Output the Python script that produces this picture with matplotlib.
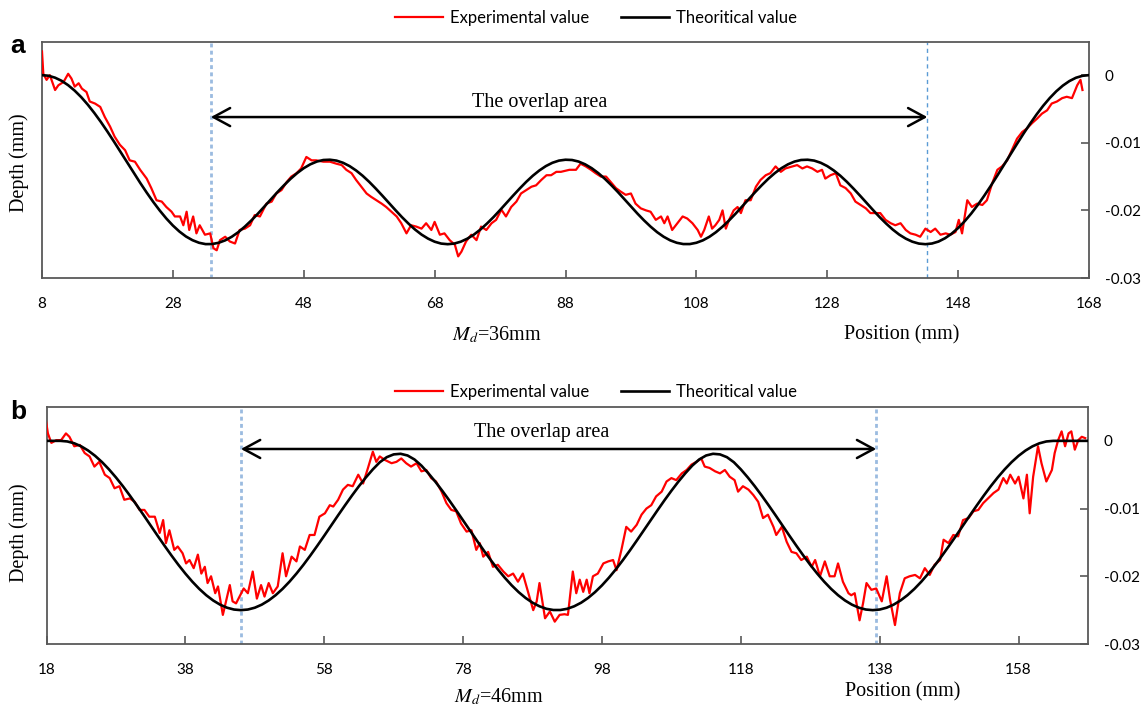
import numpy as np
import matplotlib
matplotlib.use("Agg")
import matplotlib.pyplot as plt

plt.rcParams['axes.unicode_minus'] = False
plt.rcParams['mathtext.fontset'] = 'stix'

# ---------------- data (depth values in micrometres, i.e. 0.001 mm) ----------------
# Panel a : Md = 36 mm
a_theory_x = list(range(8, 169))
a_theory_um = [
    0.00, -0.09, -0.38, -0.84, -1.49, -2.30, -3.26, -4.37, -5.60, -6.93,
    -8.35, -9.83, -11.35, -12.88, -14.42, -15.92, -17.37, -18.75, -20.03, -21.20,
    -22.24, -23.13, -23.86, -24.41, -24.79, -24.99,
    -24.98, -24.79, -24.43, -23.90, -23.22, -22.40, -21.48, -20.48, -19.42, -18.35,
    -17.28, -16.27, -15.32, -14.48, -13.76, -13.19, -12.78, -12.55, -12.51, -12.64,
    -12.96, -13.45, -14.10, -14.88, -15.78, -16.77, -17.81, -18.88, -19.95, -20.99,
    -21.95, -22.83, -23.58, -24.18, -24.63, -24.91, -25.00,
    -24.91, -24.63, -24.18, -23.58, -22.83, -21.95, -20.99, -19.95, -18.88, -17.81,
    -16.77, -15.78, -14.88, -14.10, -13.45, -12.96, -12.64, -12.51, -12.55, -12.78,
    -13.19, -13.76, -14.48, -15.32, -16.27, -17.28, -18.35, -19.42, -20.48, -21.48,
    -22.40, -23.22, -23.90, -24.43, -24.79, -24.98,
    -24.98, -24.79, -24.43, -23.90, -23.22, -22.40, -21.48, -20.48, -19.42, -18.35,
    -17.28, -16.27, -15.32, -14.48, -13.76, -13.19, -12.78, -12.55, -12.51, -12.64,
    -12.96, -13.45, -14.10, -14.88, -15.78, -16.77, -17.81, -18.88, -19.95, -20.99,
    -21.95, -22.83, -23.58, -24.18, -24.63, -24.91, -25.00,
    -24.90, -24.61, -24.12, -23.45, -22.61, -21.61, -20.47, -19.20, -17.82, -16.36,
    -14.84, -13.28, -11.72, -10.16, -8.64, -7.18, -5.80, -4.53, -3.39, -2.39,
    -1.55, -0.88, -0.39, -0.10, 0.00]

a_exp_x = [
    8.0, 8.2, 8.7, 9.2, 10.0, 10.5, 11.3, 12.0, 12.5, 13.0, 13.6, 14.1, 14.8, 15.3,
    16.1, 16.9, 17.6, 18.4, 19.1, 19.9, 20.7, 21.4, 22.2, 23.0, 24.0, 24.7, 25.5,
    26.3, 27.0, 27.8, 28.3, 29.1, 29.6, 30.1, 30.5, 31.1, 31.6, 32.1, 32.9, 33.7,
    34.2, 34.7, 35.2, 36.0, 36.7, 37.5, 38.2, 39.0, 39.8, 40.5, 41.3, 42.3, 43.1,
    43.8, 44.6, 45.4, 46.1, 46.9, 47.6, 48.4, 49.2, 49.9, 51.0, 52.0, 53.0, 53.8,
    54.5, 55.3, 56.0, 56.8, 57.6, 58.3, 59.1, 59.9, 60.6, 61.4, 62.2, 62.9, 63.7,
    64.4, 65.2, 66.0, 66.7, 67.5, 68.0, 68.8, 69.5, 70.3, 71.1, 71.6, 72.1, 72.8,
    73.6, 74.4, 75.1, 75.9, 76.7, 77.4, 78.2, 78.9, 79.7, 80.5, 81.2, 82.0, 82.8,
    83.5, 84.3, 85.1, 85.8, 86.6, 87.3, 88.6, 89.6, 90.3, 91.1, 91.9, 92.6, 93.4,
    94.2, 94.9, 95.7, 96.4, 97.2, 98.0, 98.7, 99.5, 100.3, 101.0, 101.8, 102.6,
    103.1, 103.6, 104.3, 105.1, 105.9, 106.6, 107.4, 108.2, 108.7, 109.2, 109.9,
    110.4, 110.9, 111.5, 112.0, 112.5, 113.0, 113.7, 114.3, 114.8, 115.5, 116.3,
    117.1, 117.8, 118.6, 119.3, 120.1, 120.9, 121.6, 122.7, 123.4, 124.2, 124.9,
    125.7, 126.5, 127.2, 127.7, 128.5, 129.3, 130.0, 130.8, 131.6, 132.3, 133.1,
    133.9, 134.6, 135.4, 136.1, 136.9, 137.7, 138.4, 139.2, 140.0, 140.7, 141.5,
    142.2, 143.0, 143.8, 144.5, 145.3, 146.1, 146.8, 147.6, 148.1, 148.6, 149.4,
    150.1, 150.9, 151.7, 152.4, 153.2, 154.0, 154.7, 155.5, 156.2, 157.0, 157.8,
    158.5, 159.3, 160.1, 160.8, 161.6, 162.3, 163.1, 163.9, 164.6, 165.4, 166.2,
    166.7, 167.0]
a_exp_um = [
    3.5, 0.2, -0.7, 0.0, -2.2, -1.5, -1.0, 0.2, -0.5, -1.7, -1.2, -2.0, -2.5, -3.9,
    -4.2, -4.7, -6.2, -7.6, -9.1, -10.3, -11.1, -12.6, -12.8, -14.0, -15.3, -16.7, -18.5,
    -18.7, -19.5, -20.2, -20.9, -20.9, -22.2, -20.2, -22.9, -20.9, -23.4, -22.2, -23.6, -23.4,
    -25.6, -25.9, -24.4, -23.9, -24.6, -24.9, -22.9, -22.7, -22.2, -20.7, -20.9, -19.0, -18.7,
    -17.5, -17.0, -15.8, -15.0, -14.5, -13.8, -12.1, -12.6, -12.6, -12.8, -12.8, -13.1, -13.3,
    -14.0, -14.5, -15.5, -16.5, -17.5, -18.0, -18.5, -19.0, -19.5, -20.2, -20.9, -21.9, -23.4,
    -22.2, -22.4, -22.7, -21.9, -22.9, -21.7, -23.6, -23.4, -24.4, -25.1, -26.8, -26.1, -24.6,
    -23.6, -24.4, -22.4, -22.9, -21.9, -21.4, -19.9, -20.9, -19.5, -18.7, -17.5, -17.0, -16.5,
    -16.3, -15.5, -14.8, -14.8, -14.3, -14.3, -14.0, -14.0, -13.1, -13.5, -14.0, -14.5, -15.0,
    -15.0, -15.8, -16.7, -17.2, -17.7, -17.5, -19.0, -19.7, -20.0, -20.2, -21.4, -20.9,
    -21.9, -20.9, -22.9, -21.9, -20.9, -21.2, -21.9, -22.9, -23.9, -22.9, -20.9,
    -22.7, -22.2, -21.4, -20.0, -22.7, -21.4, -20.0, -19.5, -20.4, -18.5, -18.5,
    -16.5, -15.5, -14.8, -14.5, -13.5, -14.3, -13.8, -13.5, -13.3, -13.8, -13.5,
    -13.8, -14.3, -14.0, -15.3, -14.8, -14.5, -16.3, -16.7, -17.5, -18.7, -19.2,
    -19.7, -20.4, -20.4, -20.4, -21.4, -21.9, -22.2, -21.9, -22.9, -23.4, -23.6,
    -23.9, -22.7, -23.2, -22.7, -23.6, -23.4, -23.6, -23.2, -21.4, -23.4, -18.5,
    -19.5, -19.0, -19.2, -18.5, -16.0, -14.0, -13.5, -12.6, -11.1, -9.4, -8.4,
    -7.9, -7.1, -6.4, -5.7, -5.2, -4.2, -3.9, -3.4, -3.2, -3.4, -1.5,
    -0.7, -2.2]

# Panel b : Md = 46 mm
b_theory_x = list(range(18, 169))
b_theory_um = [
    0.00, 0.00, 0.00, -0.09, -0.36, -0.81, -1.43, -2.21, -3.14, -4.21,
    -5.40, -6.69, -8.07, -9.51, -10.99, -12.50, -14.01, -15.49, -16.93, -18.31,
    -19.60, -20.79, -21.86, -22.79, -23.57, -24.19, -24.64, -24.91, -25.00,
    -24.91, -24.64, -24.19, -23.57, -22.79, -21.86, -20.79, -19.60, -18.31, -16.93,
    -15.49, -14.01, -12.50, -10.99, -9.51, -8.07, -6.69, -5.40, -4.21,
    -3.16, -2.41, -2.00, -1.91, -2.16, -2.75, -3.66,
    -4.79, -6.03, -7.37, -8.78, -10.25, -11.75, -13.25, -14.75, -16.22, -17.63,
    -18.97, -20.21, -21.34, -22.34, -23.20, -23.90, -24.43, -24.80, -24.98,
    -24.98, -24.80, -24.43, -23.90, -23.20, -22.34, -21.34, -20.21, -18.97, -17.63,
    -16.22, -14.75, -13.25, -11.75, -10.25, -8.78, -7.37, -6.03, -4.79,
    -3.66, -2.75, -2.16, -1.91, -2.00, -2.41, -3.16,
    -4.21, -5.40, -6.69, -8.07, -9.51, -10.99, -12.50, -14.01, -15.49, -16.93,
    -18.31, -19.60, -20.79, -21.86, -22.79, -23.57, -24.19, -24.64, -24.91, -25.00,
    -24.91, -24.64, -24.19, -23.57, -22.79, -21.86, -20.79, -19.60, -18.31, -16.93,
    -15.49, -14.01, -12.50, -10.99, -9.51, -8.07, -6.69, -5.40, -4.21, -3.14,
    -2.21, -1.43, -0.81, -0.36, -0.09,
    0.00, 0.00, 0.00, 0.00, 0.00, 0.00]

b_exp_x = [
    17.9, 18.2, 18.7, 19.4, 20.1, 20.8, 21.3, 22.0, 22.8, 23.5, 24.2, 24.9, 25.6,
    26.4, 27.1, 27.8, 28.5, 29.2, 30.0, 30.7, 31.4, 32.1, 32.8, 33.6, 34.3, 34.8,
    35.2, 35.7, 36.4, 36.9, 37.6, 38.1, 38.6, 39.2, 39.8, 40.3, 40.8, 41.2, 41.7,
    42.3, 42.7, 43.4, 43.9, 44.4, 44.8, 45.3, 45.8, 46.4, 47.0, 47.7, 48.3, 48.9,
    49.4, 50.0, 50.6, 51.3, 52.0, 52.5, 53.3, 54.0, 54.5, 55.2, 55.9, 56.6, 57.3,
    58.1, 58.8, 59.3, 60.0, 60.7, 61.4, 62.1, 62.9, 63.6, 64.3, 65.0, 65.5, 66.0,
    66.7, 67.7, 68.4, 69.1, 69.8, 70.5, 71.3, 72.0, 72.7, 73.4, 74.1, 74.9, 75.6,
    76.3, 77.0, 77.7, 78.5, 79.2, 79.9, 80.4, 80.9, 81.6, 82.3, 83.0, 83.8, 84.5,
    85.2, 85.9, 86.6, 87.4, 88.1, 88.6, 89.0, 89.8, 90.5, 91.2, 91.9, 92.6,
    93.1, 93.8, 94.3, 94.8, 95.3, 95.8, 96.2, 96.7, 97.4, 98.2, 98.9, 99.6, 100.1,
    100.8, 101.5, 102.2, 103.0, 103.7, 104.4, 105.1, 105.8, 106.6, 107.3, 108.0,
    108.7, 109.5, 110.2, 110.9, 111.6, 112.3, 112.8, 113.5, 114.3, 115.0, 115.7,
    116.4, 117.1, 117.6, 118.3, 119.1, 119.8, 120.5, 121.2, 121.9, 122.7, 123.1,
    123.9, 124.6, 125.3, 126.0, 126.7, 127.5, 128.2, 128.7, 129.4, 130.1, 130.8,
    131.5, 132.0, 132.7, 133.5, 133.9, 134.4, 135.1, 135.6, 136.1, 136.8, 137.5,
    138.3, 139.0, 139.5, 140.2, 140.9, 141.6, 142.3, 143.1, 143.8, 144.5, 145.2,
    145.9, 146.7, 147.2, 147.9, 148.6, 149.3, 150.0, 150.8, 151.5, 152.2, 152.9,
    153.6, 154.4, 155.1, 155.8, 156.3, 156.8, 157.5, 158.0, 158.7, 159.2, 159.6,
    160.1, 160.8, 161.3, 162.0, 162.8, 163.2, 163.7, 164.2, 164.7, 165.2, 165.6,
    166.1, 166.6, 167.1, 167.6]
b_exp_um = [
    3.1, 1.1, -0.3, 0.1, 0.1, 1.1, 0.6, -0.8, -0.6, -1.8, -2.3, -3.8, -3.1,
    -5.0, -5.5, -7.0, -6.7, -8.7, -8.5, -9.0, -10.2, -10.2, -11.2, -11.2, -13.6, -11.7,
    -15.1, -13.2, -16.1, -15.6, -16.6, -18.1, -17.6, -18.8, -16.8, -19.6, -18.6, -21.0, -20.0,
    -22.5, -21.5, -25.7, -23.5, -21.3, -23.7, -24.0, -23.0, -21.8, -22.5, -19.3, -23.3, -21.3,
    -23.0, -21.0, -22.5, -21.5, -16.6, -20.0, -17.1, -17.8, -15.6, -16.1, -13.9, -13.9, -11.2,
    -10.7, -9.5, -9.7, -8.7, -7.2, -6.5, -6.7, -5.0, -6.3, -4.0, -1.6, -3.1, -2.3,
    -2.8, -3.3, -3.1, -2.6, -3.3, -3.8, -3.3, -4.5, -4.3, -5.5, -6.0, -7.5, -9.2,
    -10.2, -10.4, -12.2, -13.4, -13.2, -16.1, -15.1, -17.1, -16.4, -18.6, -18.3, -19.3, -20.0,
    -19.6, -20.8, -19.6, -22.5, -25.0, -23.7, -21.0, -26.2, -25.2, -26.7, -25.7, -25.6,
    -25.7, -19.3, -22.5, -20.5, -22.3, -20.5, -22.5, -20.0, -19.6, -18.1, -17.8, -17.6, -19.1,
    -16.1, -12.7, -13.4, -12.4, -10.9, -10.0, -9.5, -8.2, -7.5, -6.0, -5.5,
    -5.8, -4.8, -4.3, -3.5, -3.1, -2.6, -3.8, -4.0, -4.5, -4.8, -4.3,
    -5.3, -5.8, -7.5, -6.7, -7.2, -8.0, -9.0, -11.4, -10.9, -12.7, -13.9,
    -12.7, -14.9, -16.4, -16.6, -17.6, -17.1, -18.6, -17.6, -20.0, -17.8, -20.0,
    -20.0, -18.1, -20.8, -22.5, -22.8, -22.5, -26.5, -24.0, -21.0, -22.0, -21.8,
    -23.7, -20.0, -23.5, -27.2, -22.5, -20.3, -20.0, -19.8, -20.3, -18.8, -19.8,
    -18.3, -17.6, -14.6, -15.1, -13.9, -14.1, -11.7, -11.4, -10.4, -10.2, -9.2,
    -8.5, -7.7, -7.2, -5.5, -6.3, -5.0, -6.3, -5.3, -8.5, -5.0, -10.7,
    -5.3, -0.8, -3.3, -6.0, -4.3, -1.8, 0.1, 1.4, -0.8, 1.1, 1.4,
    -1.3, 0.1, 0.6, 0.4]

# overlap-area markers (mm)
a_overlap = [33.8, 143.3]
b_overlap = [46.0, 137.5]

a_xticks = [8, 28, 48, 68, 88, 108, 128, 148, 168]
b_xticks = [18, 38, 58, 78, 98, 118, 138, 158]
yticks = [0, -0.01, -0.02, -0.03]
ytick_labels = ["0", "-0.01", "-0.02", "-0.03"]

# ---------------- figure ----------------
W, H = 1148, 709
fig = plt.figure(figsize=(W / 100, H / 100), dpi=100)

def axes_px(l, t, r, b):
    return fig.add_axes([l / W, 1 - b / H, (r - l) / W, (b - t) / H])

SANS = ['Lato', 'DejaVu Sans']
SERIF = ['Liberation Serif', 'DejaVu Serif']
RED = '#FF0000'
SPINE = '#595959'


def style_axes(ax, xlim, ylim, xticks):
    ax.set_xlim(*xlim)
    ax.set_ylim(*ylim)
    for s in ax.spines.values():
        s.set_color(SPINE)
        s.set_linewidth(1.3)
    ax.set_xticks(xticks)
    ax.set_xticklabels([str(t) for t in xticks], fontfamily=SANS, fontsize=11)
    ax.yaxis.tick_right()
    ax.set_yticks(yticks)
    ax.set_yticklabels(ytick_labels, fontfamily=SANS, fontsize=11)
    ax.tick_params(axis='x', direction='in', length=6, width=1.2, color=SPINE, pad=13.5,
                   bottom=True, top=False)
    ax.tick_params(axis='y', direction='in', length=6, width=1.2, color=SPINE, pad=11.5,
                   right=True, left=False)


def draw_panel(ax, tx, ty, ex, ey, overlap, left_dash, right_dash, arrow_y, text_xy):
    ex_line, = ax.plot(ex, np.array(ey) * 1e-3, color=RED, lw=1.6, zorder=3,
                       label='Experimental value')
    th_line, = ax.plot(tx, np.array(ty) * 1e-3, color='black', lw=1.9, zorder=4,
                       label='Theoritical value')
    ax.axvline(overlap[0], **left_dash, zorder=2)
    ax.axvline(overlap[1], **right_dash, zorder=2)
    ax.annotate('', xy=(overlap[1], arrow_y), xytext=(overlap[0], arrow_y),
                arrowprops=dict(arrowstyle='<->,head_length=1.2,head_width=0.65',
                                lw=1.8, color='black', shrinkA=0, shrinkB=0,
                                mutation_scale=10), zorder=5)
    ax.text(text_xy[0], text_xy[1], 'The overlap area', ha='center', va='center',
            fontfamily=SERIF, fontsize=14.5)
    return ex_line, th_line


dot_thick = dict(color='#9BBBE0', lw=2.0, linestyle=(0, (1.4, 1.2)))
dash_thin = dict(color='#5B9BD5', lw=1.0, linestyle=(0, (3.0, 2.6)))

# Panel a
ax1 = axes_px(42, 42, 1089, 278)
style_axes(ax1, (8, 168), (-0.03, 0.0049), a_xticks)
h1 = draw_panel(ax1, a_theory_x, a_theory_um, a_exp_x, a_exp_um, a_overlap,
                dot_thick, dash_thin, -0.0062, (84.0, -0.0041))

# Panel b
ax2 = axes_px(46.5, 407, 1088, 644)
style_axes(ax2, (18, 168), (-0.03, 0.005), b_xticks)
h2 = draw_panel(ax2, b_theory_x, b_theory_um, b_exp_x, b_exp_um, b_overlap,
                dot_thick, dot_thick, -0.0012, (89.3, 0.0012))

# legends
for handles, ycen in ((h1, 18), (h2, 392)):
    fig.legend(handles=list(handles), loc='center', bbox_to_anchor=(596 / W, 1 - ycen / H),
               ncol=2, frameon=False, prop={'family': SANS, 'size': 12},
               handlelength=2.9, handletextpad=0.42, columnspacing=1.9,
               borderpad=0.0, borderaxespad=0.0)

# axis titles / annotations
def ftext(x, y, s, **kw):
    fig.text(x / W, 1 - y / H, s, ha='center', va='center', **kw)

for ycen in (163, 533):
    ftext(19, ycen, 'Depth (mm)', rotation=90, fontfamily=SERIF, fontsize=14.5)

ftext(902, 335, 'Position (mm)', fontfamily=SERIF, fontsize=14.5)
ftext(903, 692, 'Position (mm)', fontfamily=SERIF, fontsize=14.5)
ftext(497, 335, r'$M_d$=36mm', fontfamily=SERIF, fontsize=14.5)
ftext(499, 697, r'$M_d$=46mm', fontfamily=SERIF, fontsize=14.5)

ftext(18, 46, 'a', fontfamily=['Liberation Sans', 'DejaVu Sans'], fontweight='bold', fontsize=19)
ftext(18, 412, 'b', fontfamily=['Liberation Sans', 'DejaVu Sans'], fontweight='bold', fontsize=19)

fig.savefig('out.png', dpi=100)
